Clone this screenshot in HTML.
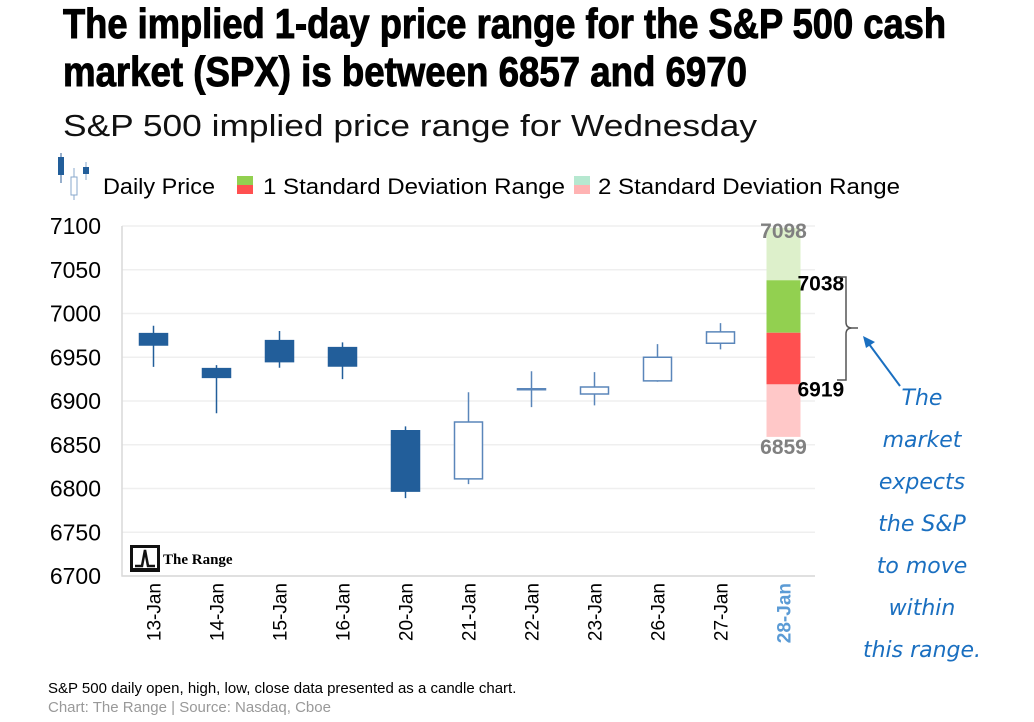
<!DOCTYPE html>
<html><head><meta charset="utf-8"><style>
html,body{margin:0;padding:0;background:#fff;}
svg{display:block;font-family:"Liberation Sans",sans-serif;}
</style></head><body>
<svg id="c" width="1034" height="722" viewBox="0 0 1034 722">
<text x="63" y="38" font-family="Liberation Sans Narrow, Liberation Sans, sans-serif" font-weight="bold" font-size="42" stroke="#000" stroke-width="1" textLength="883" lengthAdjust="spacingAndGlyphs">The implied 1-day price range for the S&amp;P 500 cash</text>
<text x="63" y="86" font-family="Liberation Sans Narrow, Liberation Sans, sans-serif" font-weight="bold" font-size="42" stroke="#000" stroke-width="1" textLength="684" lengthAdjust="spacingAndGlyphs">market (SPX) is between 6857 and 6970</text>
<text x="63" y="136" font-size="31" textLength="694" lengthAdjust="spacingAndGlyphs" fill="#111">S&amp;P 500 implied price range for Wednesday</text>
<g>
 <g>
  <line x1="61" y1="153" x2="61" y2="183" stroke="#2f5f99"/><rect x="58" y="157" width="6" height="18" fill="#225e9a"/>
  <line x1="74" y1="168" x2="74" y2="200" stroke="#8aa9cc"/><rect x="71" y="177" width="6" height="18" fill="#fff" stroke="#8aa9cc"/>
  <line x1="86" y1="162" x2="86" y2="180" stroke="#8aa9cc"/><rect x="83" y="167" width="6" height="7" fill="#225e9a"/>
 </g>
 <text x="103" y="194" font-size="22" textLength="112" lengthAdjust="spacingAndGlyphs">Daily Price</text>
 <rect x="237" y="176" width="16" height="9" fill="#92d050"/><rect x="237" y="185" width="16" height="9" fill="#ff5050"/>
 <text x="263" y="194" font-size="22" textLength="302" lengthAdjust="spacingAndGlyphs">1 Standard Deviation Range</text>
 <rect x="574" y="176" width="16" height="9" fill="#b6e8d0"/><rect x="574" y="185" width="16" height="9" fill="#ffb3b3"/>
 <text x="598" y="194" font-size="22" textLength="302" lengthAdjust="spacingAndGlyphs">2 Standard Deviation Range</text>
</g>
<g id="grid"></g><g id="marks"></g><g id="labels"></g>
<g>
 <rect x="130" y="545" width="30" height="27" fill="#111"/><rect x="133" y="548" width="24" height="20" fill="#fff"/>
 <path d="M135 566 L142 566 L145 550 L148 566 L155 566" fill="none" stroke="#111" stroke-width="2.5"/>
 <text x="163" y="564" font-family="Liberation Serif,serif" font-weight="bold" font-size="15">The Range</text>
</g>
<g fill="none" stroke="#555" stroke-width="1.5">
 <path d="M837 277 L846 277 L846 322 Q846 328 852 328 L858 328 M852 328 Q846 328 846 334 L846 380 L837 380"/>
</g>
<g>
 <line x1="900" y1="386" x2="869" y2="344" stroke="#1a6fc0" stroke-width="2"/>
 <path d="M863 336 L875 342 L866 348 Z" fill="#1a6fc0"/>
</g>
<g font-family="'DejaVu Sans',sans-serif" font-style="italic" font-size="22" fill="#1a6fc0" text-anchor="middle">
 <text x="922" y="405">The</text><text x="922" y="447">market</text><text x="922" y="489">expects</text><text x="922" y="531">the S&amp;P</text><text x="922" y="573">to move</text><text x="922" y="615">within</text><text x="922" y="657">this range.</text>
</g>
<text x="48" y="693" font-size="15">S&amp;P 500 daily open, high, low, close data presented as a candle chart.</text>
<text x="48" y="712" font-size="15" fill="#999">Chart: The Range | Source: Nasdaq, Cboe</text>
</svg>
<script>
const categories=["13-Jan","14-Jan","15-Jan","16-Jan","20-Jan","21-Jan","22-Jan","23-Jan","26-Jan","27-Jan","28-Jan"];
const opens=[6977,6937,6969,6961,6866,6811,6914,6908,6923,6966];
const highs=[6986,6941,6980,6967,6871,6910,6934,6933,6965,6989];
const lows=[6939,6886,6938,6925,6789,6805,6893,6895,6922,6959];
const closes=[6964,6927,6945,6940,6797,6876,6914,6916,6950,6979];
const rangeLevels=[7098,7038,6978,6919,6859];
const yTicks=[6700,6750,6800,6850,6900,6950,7000,7050,7100];
const NS="http://www.w3.org/2000/svg";
const L=122,R=815,T=226,B=576,yMin=6700,yMax=7100;
const bw=(R-L)/categories.length;
const y=v=>B-(v-yMin)/(yMax-yMin)*(B-T);
const x=i=>L+bw*(i+0.5);
function mk(tag,attrs,parent){const e=document.createElementNS(NS,tag);for(const k in attrs)e.setAttribute(k,attrs[k]);document.getElementById(parent).appendChild(e);return e;}
yTicks.forEach(t=>{
 const g=mk("line",{x1:L,x2:R,y1:y(t),y2:y(t),stroke:"#efefef","stroke-width":1.5},"grid");
 
 
 const tx=mk("text",{x:101,y:y(t)+8,"font-size":23,"text-anchor":"end"},"labels");
 tx.textContent=t;
 
 
});
const ax=mk("path",{d:`M${L} ${T} L${L} ${B} L${R} ${B}`,fill:"none",stroke:"#d9d9d9","stroke-width":1.5},"grid");


categories.forEach((c,i)=>{
 const last=i===categories.length-1;
 const t=mk("text",{x:0,y:0,"font-size":19,"text-anchor":"end",transform:`translate(${x(i)+7},583) rotate(-90)`,fill:last?"#5b9bd5":"#000","font-weight":last?"bold":"normal"},"labels");
 t.textContent=c;
 
 
});
opens.forEach((o,i)=>{
 const c=closes[i],down=c<o,cx=x(i),w=28;
 const col=down?"#225e9a":"#5a86ba";
 const wk=mk("line",{x1:cx,x2:cx,y1:y(highs[i]),y2:y(lows[i]),stroke:col,"stroke-width":1.5},"marks");
 
 
 const top=y(Math.max(o,c)),h=Math.max(1,y(Math.min(o,c))-top);
 const b=mk("rect",{x:cx-w/2,y:top,width:w,height:h,fill:down?"#225e9a":"#fff",stroke:col,"stroke-width":1.5},"marks");
 
 
});
const ri=categories.length-1,rx=x(ri)-17;
const fills=["#ddf0cb","#92d050","#ff5050","#ffc8c8"];
for(let k=0;k<4;k++){
 const r=mk("rect",{x:rx,y:y(rangeLevels[k]),width:34,height:y(rangeLevels[k+1])-y(rangeLevels[k]),fill:fills[k]},"marks");
 
 
}
const lab=[[rangeLevels[0],x(ri),y(rangeLevels[0])+10,"#808080","middle"],[rangeLevels[1],rx+31,y(rangeLevels[1])+10,"#000","start"],[rangeLevels[3],rx+31,y(rangeLevels[3])+12,"#000","start"],[rangeLevels[4],x(ri),y(rangeLevels[4])+17,"#808080","middle"]];
lab.forEach(a=>{
 const t=mk("text",{x:a[1],y:a[2],"font-size":21,"font-weight":"bold",fill:a[3],"text-anchor":a[4]},"labels");
 t.textContent=a[0];
 
 
});
</script>
</body></html>
